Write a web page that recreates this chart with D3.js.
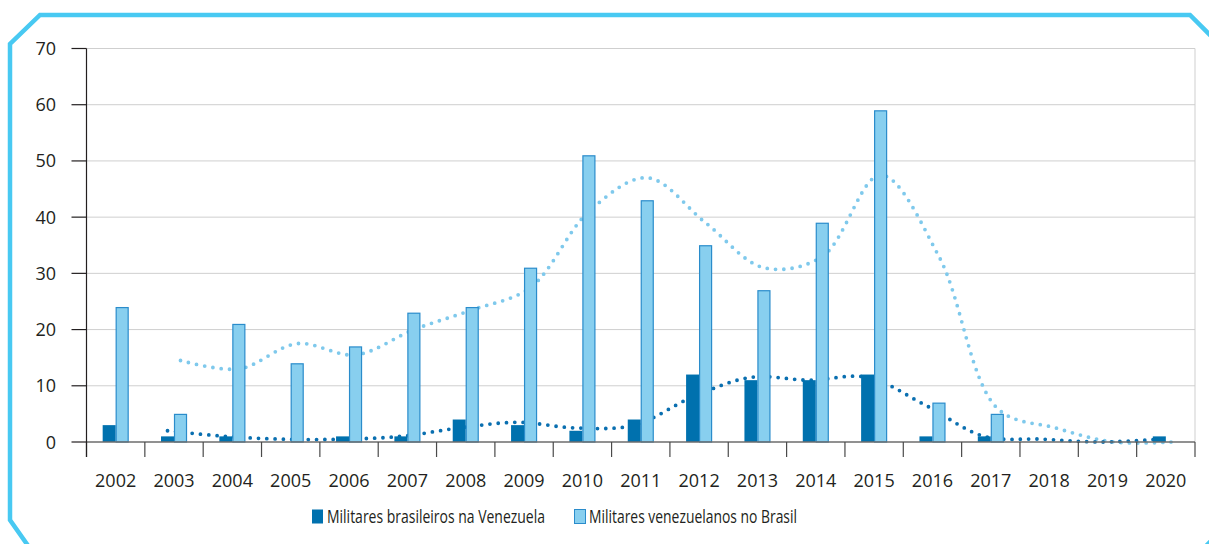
<!DOCTYPE html>
<html lang="pt">

<head>
    <meta charset="UTF-8">
    <title>Militares Brasil - Venezuela</title>
    <style>
        body { margin: 0; background: #fff; }
        svg text { font-family: "Open Sans", sans-serif; fill: #231f20; }
    </style>
</head>

<body>
    <script src="https://cdn.jsdelivr.net/npm/d3@7/dist/d3.min.js"></script>
    <script>
        const years = ['2002', '2003', '2004', '2005', '2006', '2007', '2008', '2009', '2010', '2011',
            '2012', '2013', '2014', '2015', '2016', '2017', '2018', '2019', '2020'];

        const brasileiros = [3, 1, 1, 0, 1, 1, 4, 3, 2, 4, 12, 11, 11, 12, 1, 1, 0, 0, 1];
        const venezuelanos = [24, 5, 21, 14, 17, 23, 24, 31, 51, 43, 35, 27, 39, 59, 7, 5, 0, 0, 0];

        // dotted trend lines (from 2003 on)
        const trendYears = years.slice(1);
        const trendBrasileiros = [2, 1, 0.5, 0.5, 1, 2.5, 3.5, 2.5, 3, 8, 11.5, 11, 11.5, 6.5, 1, 0.5, 0, 0.5];
        const trendVenezuelanos = [14.5, 13, 17.5, 15.5, 20, 23.5, 27.5, 41, 47, 39, 31, 33, 47.5, 33, 6, 2.5, 0, 0];

        const yTicks = [0, 10, 20, 30, 40, 50, 60, 70];
        const seriesNames = ['Militares brasileiros na Venezuela', 'Militares venezuelanos no Brasil'];

        const w = 1209;
        const h = 544;
        const plotLeft = 86.5, plotRight = 1195, plotTop = 48.5, plotBottom = 442;

        const darkBlue = '#0071ae';
        const lightBlue = '#88cfef';
        const lightStroke = '#2a8ccb';
        const frameColor = '#48c9f2';

        const svg = d3.select('body')
            .append('svg')
            .attr('width', w)
            .attr('height', h);

        // frame with cut corners
        svg.append('path')
            .attr('d', 'M10,520 L10,44 L40,15 L1190,15 L1222,47 L1222,530 L1195,557 L36,557 Z')
            .attr('fill', 'none')
            .attr('stroke', frameColor)
            .attr('stroke-width', 4.5);

        const x = d3.scaleBand()
            .domain(years)
            .range([plotLeft, plotRight]);

        const y = d3.scaleLinear()
            .domain([0, 70])
            .range([plotBottom, plotTop]);

        const inner = d3.scaleBand()
            .domain(['bra', 'ven'])
            .range([0, 26]);

        const off = (x.bandwidth() - 26) / 2;

        // grid
        svg.selectAll('line.grid')
            .data(yTicks.slice(1))
            .enter()
            .append('line')
            .attr('class', 'grid')
            .attr('x1', plotLeft)
            .attr('x2', plotRight)
            .attr('y1', d => y(d))
            .attr('y2', d => y(d))
            .attr('stroke', '#cfcfcf')
            .attr('stroke-width', 1);

        svg.append('line')
            .attr('x1', plotRight).attr('x2', plotRight)
            .attr('y1', y(70)).attr('y2', y(0))
            .attr('stroke', '#cfcfcf');

        // trend lines, each one sits on its own bar centre, behind the bars
        const trendLine = key => d3.line()
            .x((d, i) => x(trendYears[i]) + off + inner(key) + inner.bandwidth() / 2)
            .y(d => y(d))
            .curve(d3.curveCatmullRom.alpha(0.5));

        svg.append('path')
            .datum(trendVenezuelanos)
            .attr('d', trendLine('ven'))
            .attr('fill', 'none')
            .attr('stroke', '#7fc9ec')
            .attr('stroke-width', 3.8)
            .attr('stroke-linecap', 'round')
            .attr('stroke-dasharray', '0,8.3');

        svg.append('path')
            .datum(trendBrasileiros)
            .attr('d', trendLine('bra'))
            .attr('fill', 'none')
            .attr('stroke', '#0a6fb0')
            .attr('stroke-width', 3.8)
            .attr('stroke-linecap', 'round')
            .attr('stroke-dasharray', '0,8.3');

        // bars
        svg.selectAll('rect.bra')
            .data(brasileiros)
            .enter()
            .append('rect')
            .attr('class', 'bra')
            .attr('x', (d, i) => x(years[i]) + off + inner('bra'))
            .attr('y', d => y(d))
            .attr('width', inner.bandwidth())
            .attr('height', d => y(0) - y(d))
            .attr('fill', darkBlue);

        svg.selectAll('rect.ven')
            .data(venezuelanos)
            .enter()
            .append('rect')
            .attr('class', 'ven')
            .attr('x', (d, i) => x(years[i]) + off + inner('ven') + 0.5)
            .attr('y', d => y(d) + 0.5)
            .attr('width', inner.bandwidth() - 1)
            .attr('height', d => Math.max(0, y(0) - y(d) - 0.5))
            .attr('fill', lightBlue)
            .attr('stroke', d => d > 0 ? lightStroke : 'none')
            .attr('stroke-width', 1.2);

        // x axis
        svg.append('line')
            .attr('x1', plotLeft).attr('x2', plotRight)
            .attr('y1', y(0)).attr('y2', y(0))
            .attr('stroke', '#6d6d6d')
            .attr('stroke-width', 1.4);

        svg.selectAll('line.xtick')
            .data(d3.range(years.length + 1))
            .enter()
            .append('line')
            .attr('class', 'xtick')
            .attr('x1', i => plotLeft + i * x.step())
            .attr('x2', i => plotLeft + i * x.step())
            .attr('y1', y(0))
            .attr('y2', y(0) + 15)
            .attr('stroke', '#4a4a4a')
            .attr('stroke-width', 1.2);

        svg.selectAll('text.xlab')
            .data(years)
            .enter()
            .append('text')
            .attr('class', 'xlab')
            .attr('x', d => x(d) + x.bandwidth() / 2)
            .attr('y', 487)
            .attr('text-anchor', 'middle')
            .attr('font-size', 18)
            .text(d => d);

        // y axis
        svg.append('line')
            .attr('x1', plotLeft).attr('x2', plotLeft)
            .attr('y1', y(70)).attr('y2', y(0) + 15)
            .attr('stroke', '#231f20')
            .attr('stroke-width', 1.2);

        svg.selectAll('line.ytick')
            .data(yTicks)
            .enter()
            .append('line')
            .attr('class', 'ytick')
            .attr('x1', plotLeft - 15)
            .attr('x2', plotLeft)
            .attr('y1', d => y(d))
            .attr('y2', d => y(d))
            .attr('stroke', '#231f20')
            .attr('stroke-width', 1.2);

        svg.selectAll('text.ylab')
            .data(yTicks)
            .enter()
            .append('text')
            .attr('class', 'ylab')
            .attr('x', 56)
            .attr('y', d => y(d) + 6.5)
            .attr('text-anchor', 'end')
            .attr('font-size', 18)
            .text(d => d);

        // legend
        const legend = svg.append('g').attr('class', 'legend');
        const legendX = [312, 574];
        const legendTextW = [218, 208];
        const legendFill = [darkBlue, lightBlue];

        legend.selectAll('rect')
            .data(seriesNames)
            .enter()
            .append('rect')
            .attr('x', (d, i) => legendX[i] + (i ? 0.5 : 0))
            .attr('y', 509.5)
            .attr('width', 11)
            .attr('height', 14)
            .attr('fill', (d, i) => legendFill[i])
            .attr('stroke', (d, i) => i ? lightStroke : 'none');

        legend.selectAll('text')
            .data(seriesNames)
            .enter()
            .append('text')
            .attr('x', (d, i) => legendX[i] + 15)
            .attr('y', 523)
            .attr('font-size', 18)
            .attr('textLength', (d, i) => legendTextW[i])
            .attr('lengthAdjust', 'spacingAndGlyphs')
            .text(d => d);
    </script>
</body>

</html>
